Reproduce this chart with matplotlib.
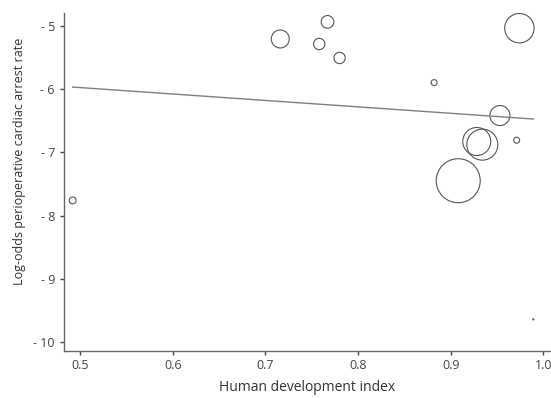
import matplotlib
matplotlib.use("Agg")
import matplotlib.pyplot as plt
from matplotlib.ticker import FuncFormatter

# study-level data
hdi = [0.716, 0.767, 0.758, 0.780, 0.882, 0.974, 0.953, 0.928, 0.934, 0.971, 0.908, 0.492, 0.989]
log_odds = [-5.21, -4.94, -5.29, -5.51, -5.90, -5.04, -6.42, -6.83, -6.88, -6.81, -7.45, -7.76, -9.64]
# relative study weights (bubble area)
weights = [81, 40, 32, 32, 9, 216, 100, 196, 240, 9, 484, 12, 0.3]

# meta-regression line
fit_x = [0.492, 0.989]
fit_y = [-5.97, -6.475]

plt.rcParams['font.family'] = ['Open Sans', 'DejaVu Sans']

fig = plt.figure(figsize=(5.51, 3.98), dpi=100)
ax = fig.add_axes([64 / 551, 1 - 351 / 398, (551 - 64) / 551, (351 - 13) / 398])

# bubble area proportional to weight
sizes = [(1.44 * w ** 0.5) ** 2 for w in weights]
ax.scatter(hdi, log_odds, s=sizes, facecolors='none', edgecolors='#555555', linewidths=0.8)
ax.plot(fit_x, fit_y, color='#808080', linewidth=1.0)

ax.set_xlim(0.4827, 1.0081)
ax.set_ylim(-10.14, -4.80)
ax.set_xticks([0.5, 0.6, 0.7, 0.8, 0.9, 1.0])
ax.set_yticks([-5, -6, -7, -8, -9, -10])
ax.xaxis.set_major_formatter(FuncFormatter(lambda v, p: f"{v:.1f}"))
ax.yaxis.set_major_formatter(FuncFormatter(lambda v, p: f"- {abs(int(round(v)))}"))

for side in ['top', 'right']:
    ax.spines[side].set_visible(False)
for side in ['left', 'bottom']:
    ax.spines[side].set_color('#666666')
    ax.spines[side].set_linewidth(1.0)
ax.tick_params(colors='#444444', labelsize=9, length=3, width=1.0)
ax.tick_params(axis='x', pad=3)

ax.set_xlabel('Human development index', fontsize=10, color='#333333')
ax.set_ylabel('Log-odds perioperative cardiac arrest rate', fontsize=9, color='#333333')
ax.xaxis.set_label_coords(0.5, -0.109)
ax.yaxis.set_label_coords(-0.0915, 0.562)
ax.xaxis.label.set_va('center')
ax.yaxis.label.set_va('center')

fig.savefig('out.png', dpi=100)
